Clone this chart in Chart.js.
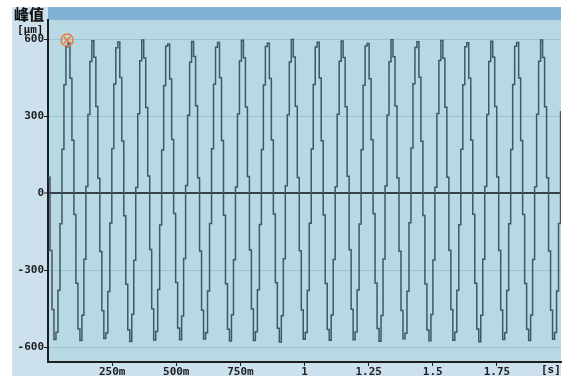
<!DOCTYPE html>
<html>
<head>
<meta charset="utf-8">
<script src="https://cdn.jsdelivr.net/npm/chart.js@4/dist/chart.umd.min.js"></script>
<style>
    html, body { margin: 0; padding: 0; background: #ffffff; }
    #wrap { position: relative; width: 572px; height: 376px; overflow: hidden; }
    #peakChart { position: absolute; left: 0; top: 0; }
    .label { position: absolute; color: #151515; white-space: nowrap; }
</style>
</head>
<body>
<div id="wrap">
    <canvas id="peakChart" width="572" height="376"></canvas>
    <div class="label" style="left:14px; top:3px; font: 900 15px 'Noto Sans CJK SC', sans-serif;">峰值</div>
    <div class="label" style="left:17px; top:23px; font: bold 11px 'DejaVu Sans Mono', monospace;">[μm]</div>
    <div class="label" style="left:541px; top:363px; font: bold 11px 'DejaVu Sans Mono', monospace;">[s]</div>
</div>
<script>
// Sampled peak signal, one value every sampleStep seconds
const sampleStep = 0.007775;
const peakValues = [
    63, -224, -454, -570, -542, -379, -120, 171, 422, 570, 584, 447, 206, -84, -351, -529, -574, -476, -258, 26, 306, 512, 593, 529, 337,
    58, -228, -458, -566, -545, -383, -117, 174, 425, 566, 588, 450, 203, -88, -355, -532, -578, -472, -262, 22, 309, 515, 596, 526, 333,
    66, -220, -451, -572, -539, -376, -124, 168, 419, 572, 581, 444, 209, -80, -348, -526, -571, -479, -255, 29, 303, 509, 590, 532, 340,
    60, -226, -456, -568, -544, -381, -119, 173, 424, 568, 586, 449, 205, -86, -353, -530, -576, -474, -260, 24, 308, 514, 595, 527, 335,
    64, -222, -452, -574, -540, -377, -122, 170, 421, 571, 583, 446, 207, -82, -349, -527, -580, -478, -256, 28, 305, 510, 598, 530, 338,
    61, -225, -455, -569, -543, -380, -118, 172, 423, 569, 587, 448, 204, -85, -352, -531, -573, -475, -259, 25, 307, 513, 592, 528, 336,
    65, -221, -453, -571, -541, -378, -121, 169, 420, 573, 582, 445, 208, -81, -350, -528, -577, -477, -257, 27, 304, 511, 597, 531, 339,
    59, -227, -457, -567, -546, -382, -116, 175, 426, 567, 589, 451, 202, -87, -354, -533, -575, -473, -261, 23, 310, 516, 594, 525, 334,
    62, -223, -454, -573, -542, -379, -123, 171, 422, 570, 585, 447, 206, -83, -351, -529, -579, -476, -258, 26, 306, 512, 591, 529, 337,
    63, -224, -455, -570, -544, -380, -120, 170, 423, 572, 586, 448, 205, -84, -352, -530, -574, -475, -259, 25, 307, 513, 596, 528, 336,
    60, -226, -456, -569, -543, -381, -119, 320
];

// Marked maximum (orange circle)
const markerTime = [0.0745];
const markerValue = [596];

// Axis ticks
const yTickValues = [-600, -300, 0, 300, 600];
const xTickValues = [0.25, 0.5, 0.75, 1, 1.25, 1.5, 1.75];
const xTickLabels = ['250m', '500m', '750m', '1', '1.25', '1.5', '1.75'];

const signalPoints = peakValues.map((v, i) => ({ x: i * sampleStep, y: v }));
const markerPoints = markerTime.map((t, i) => ({ x: t, y: markerValue[i] }));

// Panel, title band and plot background
const backgroundPlugin = {
    id: 'panelBackground',
    beforeDraw(chart) {
        const ctx = chart.ctx;
        const area = chart.chartArea;
        ctx.save();
        ctx.fillStyle = '#cde0ee';
        ctx.fillRect(12, 7, area.right - 12, 376 - 7);
        ctx.fillStyle = '#80b3d3';
        ctx.fillRect(area.left, 7, area.right - area.left, area.top - 7);
        ctx.fillStyle = '#b8d9e3';
        ctx.fillRect(area.left, area.top, area.right - area.left, area.bottom - area.top);
        ctx.restore();
    }
};

const tickFont = { family: "'DejaVu Sans Mono', monospace", size: 11, weight: 'bold' };

new Chart(document.getElementById('peakChart').getContext('2d'), {
    type: 'line',
    data: {
        datasets: [{
            data: signalPoints,
            borderColor: '#3f5865',
            borderWidth: 1.5,
            pointRadius: 0,
            stepped: true,
            fill: false,
            order: 3
        }, {
            data: markerPoints,
            showLine: false,
            pointStyle: 'circle',
            pointRadius: 6,
            pointBorderWidth: 1.5,
            pointBorderColor: '#f07a3c',
            pointBackgroundColor: 'rgba(0,0,0,0)',
            order: 1
        }, {
            data: markerPoints,
            showLine: false,
            pointStyle: 'crossRot',
            pointRadius: 4.5,
            pointBorderWidth: 1.5,
            pointBorderColor: '#f07a3c',
            order: 2
        }]
    },
    options: {
        responsive: false,
        animation: false,
        layout: {
            padding: { left: 12, right: 11, top: 20, bottom: 0 }
        },
        plugins: {
            legend: { display: false },
            tooltip: { enabled: false }
        },
        scales: {
            x: {
                type: 'linear',
                min: 0,
                max: 2,
                afterFit: scale => { scale.height = 14; },
                afterBuildTicks: scale => {
                    scale.ticks = xTickValues.map(v => ({ value: v }));
                },
                border: { color: '#1e1e1e', width: 2 },
                grid: {
                    drawOnChartArea: false,
                    tickLength: 4,
                    tickColor: '#1e1e1e',
                    tickWidth: 1
                },
                ticks: {
                    autoSkip: false,
                    maxRotation: 0,
                    padding: 0,
                    color: '#1e1e1e',
                    font: tickFont,
                    callback: (value) => {
                        const i = xTickValues.indexOf(value);
                        return i >= 0 ? xTickLabels[i] : '';
                    }
                }
            },
            y: {
                min: -658,
                max: 674,
                afterFit: scale => { scale.width = 36; },
                afterBuildTicks: scale => {
                    scale.ticks = yTickValues.map(v => ({ value: v }));
                },
                border: { color: '#1e1e1e', width: 2 },
                grid: {
                    color: ctx => ctx.tick && ctx.tick.value === 0 ? '#37424a' : '#9cc3cf',
                    lineWidth: ctx => ctx.tick && ctx.tick.value === 0 ? 2 : 1,
                    tickLength: 4,
                    tickColor: '#1e1e1e',
                    tickWidth: 1
                },
                ticks: {
                    padding: 0,
                    color: '#1e1e1e',
                    font: tickFont
                }
            }
        }
    },
    plugins: [backgroundPlugin]
});
</script>
</body>
</html>
